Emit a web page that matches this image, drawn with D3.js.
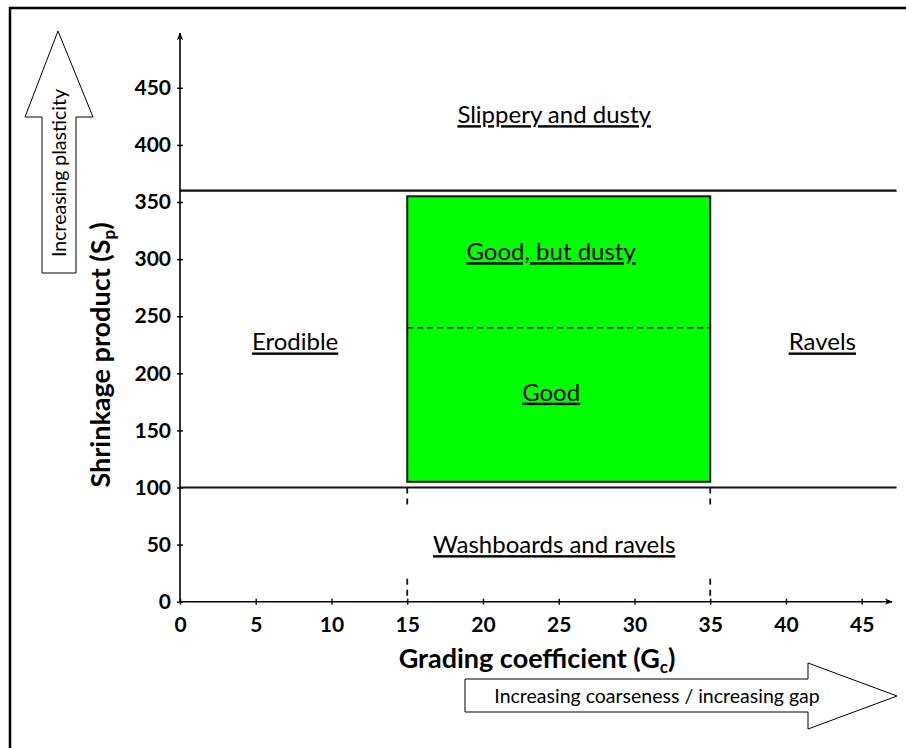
<!DOCTYPE html>
<html lang="en">
<head>
<meta charset="UTF-8">
<title>Shrinkage product vs grading coefficient</title>
<style>
  *{margin:0;padding:0;}
  body{background:#fff;}
  svg text{font-family:Lato, "Open Sans", sans-serif;}
  .u{text-decoration:underline;}
</style>
</head>
<body>
<div id="chart"></div>
<script src="https://cdn.jsdelivr.net/npm/d3@7"></script>
<script>
// chart values
var xTicks = [0, 5, 10, 15, 20, 25, 30, 35, 40, 45];
var yTicks = [0, 50, 100, 150, 200, 250, 300, 350, 400, 450];
var boundaries = [100, 360];           // horizontal limit lines (Sp)
var goodBox = [15, 35, 105, 355];      // Gc from, Gc to, Sp from, Sp to
var dustySplit = 240;                  // dashed line inside good box
var dashedGc = [15, 35];               // dashed marks below the box
var zoneNames = ["Slippery and dusty", "Good, but dusty", "Erodible", "Good", "Ravels", "Washboards and ravels"];
var zoneGc = [24.7, 24.5, 7.6, 24.5, 42.4, 24.7];
var zoneSp = [419, 299, 220, 176, 220, 42.5];

var W = 906, H = 748;
var svg = d3.select('#chart').append('svg').attr('width', W).attr('height', H);

// outer frame (right and bottom edges are outside the picture)
svg.append('rect').attr('x', 10).attr('y', 8).attr('width', 1000).attr('height', 1000)
  .attr('fill', 'none').attr('stroke', '#000').attr('stroke-width', 2.5);

var x = d3.scaleLinear().domain([0, 47]).range([180, 892]);
var y = d3.scaleLinear().domain([0, 498]).range([601.7, 33]);

var defs = svg.append('defs');
defs.append('marker').attr('id', 'ah').attr('viewBox', '0 0 10 10')
  .attr('refX', 9).attr('refY', 5).attr('markerWidth', 8).attr('markerHeight', 8)
  .attr('markerUnits', 'userSpaceOnUse').attr('orient', 'auto')
  .append('path').attr('d', 'M0,1 L10,5 L0,9 L3,5 Z').attr('fill', '#000');

// green "good" box
svg.append('rect')
  .attr('x', x(goodBox[0])).attr('y', y(goodBox[3]))
  .attr('width', x(goodBox[1]) - x(goodBox[0]))
  .attr('height', y(goodBox[2]) - y(goodBox[3]))
  .attr('fill', '#00ff00').attr('stroke', '#111').attr('stroke-width', 2);

svg.append('line')
  .attr('x1', x(goodBox[0])).attr('x2', x(goodBox[1]))
  .attr('y1', y(dustySplit)).attr('y2', y(dustySplit))
  .attr('stroke', '#000').attr('stroke-width', 1.5).attr('stroke-dasharray', '6,4');

// limit lines
svg.selectAll('.bound').data(boundaries).enter().append('line')
  .attr('class', 'bound')
  .attr('x1', x(0)).attr('x2', x(47.3))
  .attr('y1', d => y(d)).attr('y2', d => y(d))
  .attr('stroke', '#111').attr('stroke-width', (d, i) => i ? 2.2 : 1.8);

// dashed vertical marks at Gc 15 and 35
dashedGc.forEach(function(g) {
  [[100, 83], [20, 0]].forEach(function(seg) {
    svg.append('line')
      .attr('x1', x(g)).attr('x2', x(g))
      .attr('y1', y(seg[0])).attr('y2', y(seg[1]))
      .attr('stroke', '#111').attr('stroke-width', 1.8).attr('stroke-dasharray', '6,5');
  });
});

// axes
var xAxis = d3.axisBottom(x).tickValues(xTicks).tickSizeInner(3).tickSizeOuter(0).tickPadding(12);
var yAxis = d3.axisLeft(y).tickValues(yTicks).tickSizeInner(3).tickSizeOuter(0).tickPadding(6);

var gx = svg.append('g').attr('transform', `translate(0,${y(0)})`).call(xAxis);
var gy = svg.append('g').attr('transform', `translate(${x(0)},0)`).call(yAxis);
[gx, gy].forEach(function(g) {
  g.select('.domain').remove();
  g.selectAll('.tick line').attr('stroke', '#111').attr('stroke-width', 1.5);
  g.selectAll('.tick text').attr('font-size', 21).attr('font-weight', 'bold')
    .attr('font-family', 'Lato, sans-serif').attr('fill', '#000');
});
gx.selectAll('.tick line').attr('y1', -3);
gy.selectAll('.tick line').attr('x2', 3).attr('x1', -3);

svg.append('line').attr('x1', x(0)).attr('x2', x(47)).attr('y1', y(0)).attr('y2', y(0))
  .attr('stroke', '#000').attr('stroke-width', 1.6).attr('marker-end', 'url(#ah)');
svg.append('line').attr('x1', x(0)).attr('x2', x(0)).attr('y1', y(0)).attr('y2', y(498))
  .attr('stroke', '#000').attr('stroke-width', 1.6).attr('marker-end', 'url(#ah)');

// axis titles
var xt = svg.append('text').attr('x', 537).attr('y', 668).attr('text-anchor', 'middle')
  .attr('font-size', 27).attr('font-weight', 'bold');
xt.append('tspan').text('Grading coefficient (G');
xt.append('tspan').attr('font-size', 17).attr('dy', 5).text('c');
xt.append('tspan').attr('dy', -5).text(')');

var yt = svg.append('text').attr('transform', 'translate(110,355) rotate(-90)')
  .attr('text-anchor', 'middle').attr('font-size', 27).attr('font-weight', 'bold');
yt.append('tspan').text('Shrinkage product (S');
yt.append('tspan').attr('font-size', 17).attr('dy', 5).text('p');
yt.append('tspan').attr('dy', -5).text(')');

// zone labels
svg.selectAll('.zone').data(zoneNames).enter().append('text')
  .attr('class', 'zone u')
  .attr('x', (d, i) => x(zoneGc[i])).attr('y', (d, i) => y(zoneSp[i]))
  .attr('text-anchor', 'middle').attr('font-size', 24).attr('fill', '#000')
  .text(d => d);

// hollow direction arrows
svg.append('path')
  .attr('d', 'M58,31 L93,117 L76,117 L76,273 L42,273 L42,117 L25,117 Z')
  .attr('fill', '#fff').attr('stroke', '#000').attr('stroke-width', 1);
svg.append('text').attr('transform', 'translate(66,173) rotate(-90)')
  .attr('text-anchor', 'middle').attr('font-size', 19.5).text('Increasing plasticity');

svg.append('path')
  .attr('d', 'M465,679 L808,679 L808,663 L897,696 L808,729 L808,712 L465,712 Z')
  .attr('fill', '#fff').attr('stroke', '#000').attr('stroke-width', 1);
svg.append('text').attr('x', 657).attr('y', 703)
  .attr('text-anchor', 'middle').attr('font-size', 19.5).text('Increasing coarseness / increasing gap');
</script>
</body>
</html>
